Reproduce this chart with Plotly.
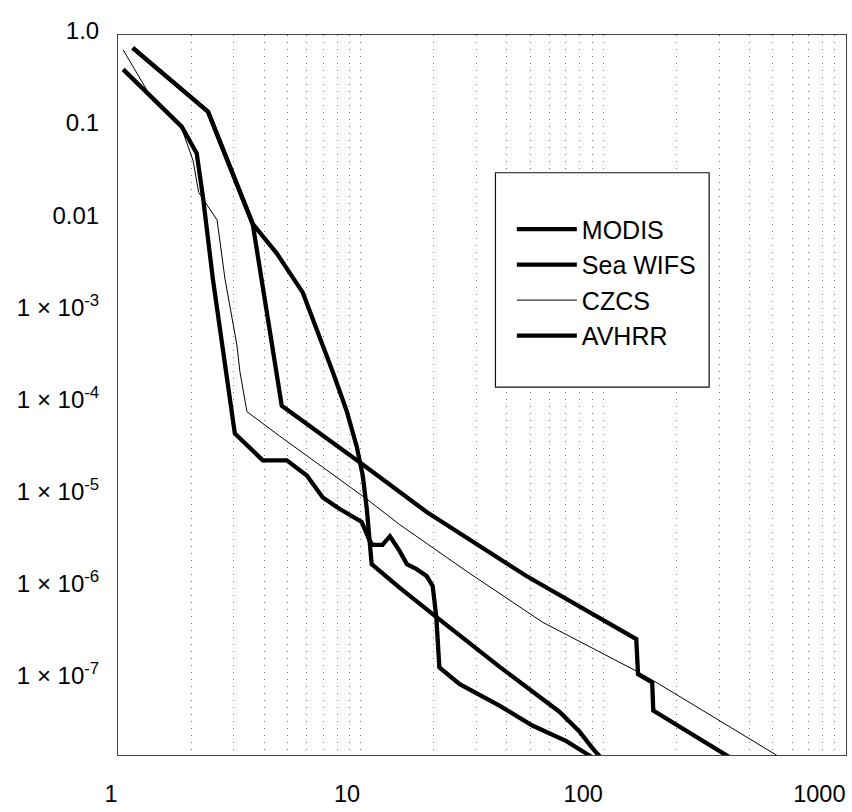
import plotly.graph_objects as go

# Series traced as (x, y) pairs
modis_x = [1.15, 2.35, 3.59, 4.73, 10.1, 18.7, 48.2, 96.3, 136.7, 139, 159, 160.6, 336]
modis_y = [0.726, 0.147, 0.00889, 9.4e-5, 2.2e-5, 6.6e-6, 1.33e-6, 4.73e-7, 2.75e-7,
           1.14e-7, 9.3e-8, 4.6e-8, 1.4e-8]

seawifs_x = [1.15, 2.35, 3.59, 4.51, 5.77, 6.59, 7.67, 8.75, 9.63, 10.2, 10.6, 11.1,
             14.5, 20.6, 37.3, 65.9, 79.7, 90.1, 98.1]
seawifs_y = [0.726, 0.147, 0.00889, 4.25e-3, 1.6e-3, 6.5e-4, 2.2e-4, 8.3e-5, 3.4e-5,
             1.64e-5, 7.1e-6, 1.79e-6, 9.9e-7, 4.73e-7, 1.38e-7, 4.47e-8, 2.73e-8,
             1.8e-8, 1.4e-8]

czcs_x = [1.05, 1.33, 1.83, 2.04, 2.15, 2.56, 2.76, 3.09, 3.18, 3.40, 4.64, 10.6, 14.5,
          27.3, 56.1, 140.6, 170, 530]
czcs_y = [0.69, 0.24, 0.097, 0.043, 0.0195, 0.0098, 2.24e-3, 4.3e-4, 2.2e-4, 8.1e-5,
          4.4e-5, 9.1e-6, 4.8e-6, 1.5e-6, 4.2e-7, 1.19e-7, 8.9e-8, 1.45e-8]

avhrr_x = [1.05, 1.83, 2.11, 2.24, 2.46, 2.70, 3.03, 3.95, 4.96, 6.0, 6.98, 8.2, 9.27,
           10.1, 10.9, 11.2, 12.3, 13.2, 14.5, 15.5, 17.0, 18.7, 19.8, 20.5, 21.1, 25.6,
           37.3, 51.0, 70.4, 89.3]
avhrr_y = [0.423, 0.101, 0.052, 0.0173, 2.24e-3, 4.3e-4, 4.7e-5, 2.4e-5, 2.4e-5, 1.64e-5,
           9.5e-6, 7.1e-6, 5.8e-6, 5.15e-6, 3.2e-6, 2.9e-6, 2.9e-6, 3.6e-6, 2.46e-6,
           1.79e-6, 1.58e-6, 1.33e-6, 1.04e-6, 4.73e-7, 1.35e-7, 8.9e-8, 5.2e-8, 3.16e-8,
           2.14e-8, 1.45e-8]

x_tick_vals = [1, 10, 100, 1000]
x_tick_text = ["1", "10", "100", "1000"]
y_tick_vals = [1.0, 0.1, 0.01, 1e-3, 1e-4, 1e-5, 1e-6, 1e-7]
y_tick_text = ["1.0", "0.1", "0.01", "1 \u00d7 10<sup>-3</sup>", "1 \u00d7 10<sup>-4</sup>",
               "1 \u00d7 10<sup>-5</sup>", "1 \u00d7 10<sup>-6</sup>", "1 \u00d7 10<sup>-7</sup>"]

FONT = "Liberation Sans, Arial, sans-serif"

series = [
    ("MODIS", modis_x, modis_y, 4.3, "#000000"),
    ("Sea WIFS", seawifs_x, seawifs_y, 4.3, "#000000"),
    ("CZCS", czcs_x, czcs_y, 1.0, "#000000"),
    ("AVHRR", avhrr_x, avhrr_y, 4.3, "#000000"),
]

fig = go.Figure()
for name, xs, ys, w, c in series:
    fig.add_trace(go.Scatter(x=xs, y=ys, mode="lines", name=name, legendgroup=name,
                             line=dict(color=c, width=w)))

minor_x = [m * 10 ** k for k in range(3) for m in range(2, 10)]

fig.update_xaxes(
    type="log", range=[0, 3],
    tickmode="array", tickvals=x_tick_vals, ticktext=x_tick_text,
    ticks="", ticklabelposition="outside left", ticklabelstandoff=18,
    tickfont=dict(family=FONT, size=23.5, color="#000"),
    showgrid=True, gridcolor="#777", gridwidth=1, griddash="1px,6px",
    minor=dict(tickmode="array", tickvals=minor_x, showgrid=True,
               gridcolor="#777", gridwidth=1, griddash="1px,6px", ticks=""),
    showline=True, linecolor="#444", linewidth=1, mirror=True, zeroline=False,
)
fig.update_yaxes(
    type="log", range=[-7.82, 0],
    tickmode="array", tickvals=y_tick_vals, ticktext=y_tick_text,
    ticks="", ticklabelshift=-4, ticklabelstandoff=13,
    tickfont=dict(family=FONT, size=24, color="#000"),
    showgrid=False,
    showline=True, linecolor="#444", linewidth=1, mirror=True, zeroline=False,
)

# Framed box behind the legend entries
fig.add_shape(type="rect", xref="paper", yref="paper",
              x0=0.5185, x1=0.812, y0=0.511, y1=0.8087,
              line=dict(color="#111", width=1.2), fillcolor="white", layer="above")

fig.update_layout(
    width=852, height=812,
    margin=dict(l=118, r=5, t=35, b=45),
    paper_bgcolor="white", plot_bgcolor="white",
    font=dict(family=FONT, color="#000"),
    showlegend=True,
    legend=dict(x=0.541, y=0.762, xanchor="left", yanchor="top",
                bgcolor="rgba(0,0,0,0)", borderwidth=0,
                font=dict(family=FONT, size=25, color="#000"),
                traceorder="grouped", tracegroupgap=0, itemwidth=60),
)

fig.write_html("out.html")
